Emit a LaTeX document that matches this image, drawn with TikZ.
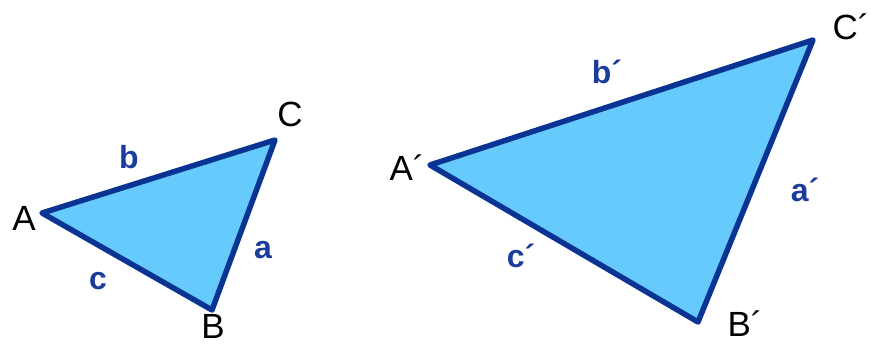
\documentclass[tikz,border=0pt]{standalone}
\usepackage{fontspec}
\setmainfont{Liberation Sans}
\definecolor{edge}{HTML}{0A3494}
\definecolor{face}{HTML}{66CBFC}
\definecolor{lbl}{HTML}{1A3C9C}
\tikzset{
  tri/.style={draw=edge, fill=face, line width=5.5pt, line join=round},
  vlabel/.style={font=\fontsize{35}{35}\selectfont, text=black, inner sep=0pt},
  slabel/.style={font=\fontsize{32}{32}\selectfont\bfseries, text=lbl, inner sep=0pt}
}
\begin{document}
\begin{tikzpicture}[x=1pt,y=-1pt]
\useasboundingbox (0,0) rectangle (871,346);
% small triangle
\coordinate (A) at (42,213);
\coordinate (B) at (212,310);
\coordinate (C) at (275,140);
\draw[tri] (A) -- (B) -- (C) -- cycle;
\node[vlabel] (lA) at (24,218) {A};
\node[vlabel] (lB) at (213,326) {B};
\node[vlabel] (lC) at (290,114) {C};
\node[slabel] (la) at (263,250) {a};
\node[slabel] (lb) at (129,157) {b};
\node[slabel] (lc) at (98,281) {c};
% big triangle
\coordinate (A2) at (430,165);
\coordinate (B2) at (698,322);
\coordinate (C2) at (813,40);
\draw[tri] (A2) -- (B2) -- (C2) -- cycle;
\node[vlabel] (lA2) at (407,168) {A´};
\node[vlabel] (lB2) at (745,324) {B´};
\node[vlabel] (lC2) at (851,27) {C´};
\node[slabel] (la2) at (805,190) {a´};
\node[slabel] (lb2) at (607,72) {b´};
\node[slabel] (lc2) at (521,256) {c´};
\end{tikzpicture}
\end{document}
